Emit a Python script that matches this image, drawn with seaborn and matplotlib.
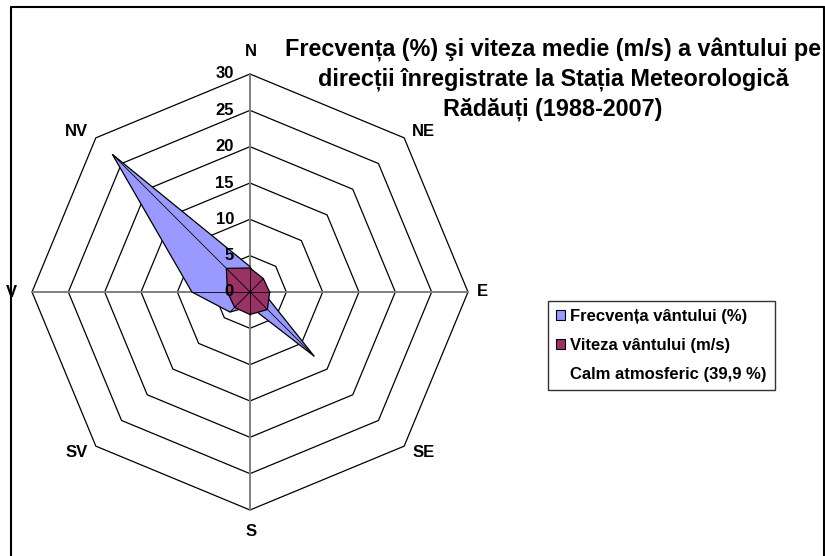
import numpy as np
import pandas as pd
import seaborn as sns
import matplotlib.pyplot as plt
from matplotlib.patches import Patch

# date
directii = ["N", "NE", "E", "SE", "S", "SV", "V", "NV"]
frecventa = [3.5, 1.6, 1.8, 12.5, 2.0, 3.9, 8.0, 26.8]   # %
viteza = [3.3, 2.6, 2.7, 3.4, 3.1, 3.0, 3.1, 4.6]        # m/s
inele = [0, 5, 10, 15, 20, 25, 30]
calm = "Calm atmosferic (39,9 %)"

titlu = ("Frecvența (%) şi viteza medie (m/s) a vântului pe\n"
         "direcții înregistrate la Stația Meteorologică\n"
         "Rădăuți (1988-2007)")

sns.set_style("white")
plt.rcParams["font.family"] = ["Liberation Sans", "DejaVu Sans"]
plt.rcParams["font.weight"] = "bold"
plt.rcParams["text.color"] = "black"

unghi = np.deg2rad(np.arange(len(directii)) * 45.0)


def xy(valori):
    v = np.asarray(valori, dtype=float)
    return v * np.sin(unghi), v * np.cos(unghi)


fig = plt.figure(figsize=(8.25, 5.56), dpi=100)
k = 218 / 30  # pixeli pe unitate
L = 34
lat = 2 * L * k
ax = fig.add_axes([(250 - lat / 2) / 825, (264 - lat / 2) / 556, lat / 825, lat / 556])
ax.set_xlim(-L, L)
ax.set_ylim(-L, L)
ax.axis("off")

# grila octogonala
rows = []
for r in inele[1:]:
    x, y = xy([r] * 8)
    for xi, yi in zip(np.append(x, x[0]), np.append(y, y[0])):
        rows.append({"inel": r, "x": xi, "y": yi})
grila = pd.DataFrame(rows)
sns.lineplot(data=grila, x="x", y="y", units="inel", estimator=None, sort=False,
             color="black", linewidth=0.9, ax=ax, zorder=1)
ax.plot([0, 0], [-30, 30], color="#808080", lw=1.4, zorder=1.5)
ax.plot([-30, 30], [0, 0], color="#808080", lw=1.4, zorder=1.5)

# serii
for valori, culoare, z in [(frecventa, "#9999FF", 2), (viteza, "#993366", 3)]:
    x, y = xy(valori)
    ax.fill(x, y, facecolor=culoare, edgecolor="black", lw=0.9, zorder=z)
    for xi, yi in zip(x, y):
        ax.plot([0, xi], [0, yi], color="black", lw=0.6, zorder=z + 0.1)

# etichete valori
for r in inele:
    ax.annotate(str(r), xy=(0, r), xytext=(-16, 0), textcoords="offset pixels",
                ha="right", va="center", fontsize=12, fontweight="bold")

# etichete directii
pozitii = {
    "N": ((1, 22), "center", "center"),
    "NE": ((8, 1.5), "left", "baseline"),
    "E": ((9, 0), "left", "center"),
    "SE": ((8, -10.5), "left", "baseline"),
    "S": ((1, -21), "center", "center"),
    "SV": ((-8, -10.5), "right", "baseline"),
    "V": ((-15, 0), "right", "center"),
    "NV": ((-8, 1.5), "right", "baseline"),
}
vx, vy = xy([30] * 8)
for d, xi, yi in zip(directii, vx, vy):
    off, ha, va = pozitii[d]
    ax.annotate(d, xy=(xi, yi), xytext=off, textcoords="offset pixels",
                ha=ha, va=va, fontsize=12, fontweight="bold")

fig.text(553 / 825, 1 - 38 / 556, titlu, ha="center", va="top", fontsize=16.8,
         fontweight="bold", linespacing=1.32)

handles = [Patch(facecolor="#9999FF", edgecolor="black", lw=0.8),
           Patch(facecolor="#993366", edgecolor="black", lw=0.8),
           Patch(facecolor="none", edgecolor="none")]
labels = ["Frecvența vântului (%)", "Viteza vântului (m/s)", calm]
leg = fig.legend(handles, labels, loc="upper left", bbox_to_anchor=(548 / 825, 1 - 301 / 556),
                 frameon=True, fancybox=False, shadow=False, edgecolor="black",
                 handlelength=0.55, handleheight=0.55, handletextpad=0.35,
                 labelspacing=0.87, borderpad=0.45, borderaxespad=0,
                 prop={"size": 12, "weight": "bold"})
leg.get_frame().set_linewidth(1.0)

# chenarul graficului
fig.add_artist(plt.Line2D([10.5 / 825, 10.5 / 825], [0, 1 - 7 / 556], color="black", lw=1.5))
fig.add_artist(plt.Line2D([10.5 / 825, 823.5 / 825], [1 - 7 / 556, 1 - 7 / 556], color="black", lw=1.5))
fig.add_artist(plt.Line2D([823.5 / 825, 823.5 / 825], [0, 1 - 7 / 556], color="black", lw=1.5))

fig.savefig("out.png", dpi=100)
